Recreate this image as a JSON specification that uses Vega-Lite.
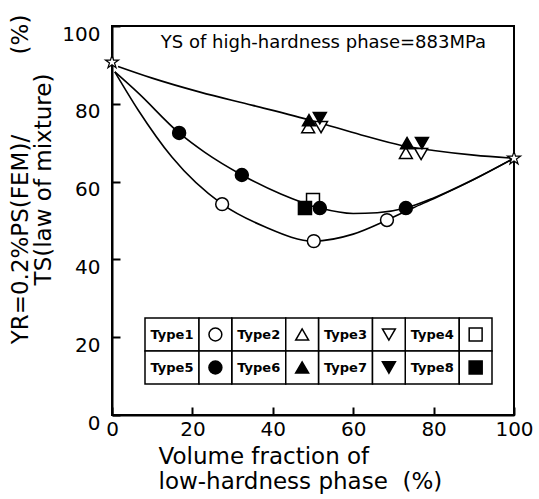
{
  "$schema": "https://vega.github.io/schema/vega-lite/v6.json",
  "width": 402,
  "height": 389,
  "autosize": {"type": "none"},
  "padding": {"left": 112, "top": 26, "right": 25, "bottom": 84},
  "background": "white",
  "datasets": {
    "points": [
      {"type": "Type1", "vf": 27.4, "yr": 54.2},
      {"type": "Type1", "vf": 50.2, "yr": 44.7},
      {"type": "Type1", "vf": 68.4, "yr": 50.1},
      {"type": "Type2", "vf": 48.8, "yr": 74.0},
      {"type": "Type2", "vf": 73.1, "yr": 67.4},
      {"type": "Type3", "vf": 52.0, "yr": 74.0},
      {"type": "Type3", "vf": 76.9, "yr": 67.1},
      {"type": "Type4", "vf": 50.0, "yr": 55.3},
      {"type": "Type6", "vf": 49.0, "yr": 75.8},
      {"type": "Type6", "vf": 73.4, "yr": 69.9},
      {"type": "Type7", "vf": 51.7, "yr": 76.3},
      {"type": "Type7", "vf": 77.1, "yr": 69.9},
      {"type": "Type8", "vf": 48.0, "yr": 53.2},
      {"type": "Type5", "vf": 16.7, "yr": 72.5},
      {"type": "Type5", "vf": 32.3, "yr": 61.7},
      {"type": "Type5", "vf": 51.7, "yr": 53.2},
      {"type": "Type5", "vf": 73.1, "yr": 53.2}
    ],
    "curves": [
      {"curve": "top", "vf": 1.5, "yr": 89.6},
      {"curve": "top", "vf": 10, "yr": 86.6},
      {"curve": "top", "vf": 21.9, "yr": 83.0},
      {"curve": "top", "vf": 35, "yr": 79.6},
      {"curve": "top", "vf": 50, "yr": 75.6},
      {"curve": "top", "vf": 62, "yr": 72.0},
      {"curve": "top", "vf": 72, "yr": 69.3},
      {"curve": "top", "vf": 80, "yr": 68.0},
      {"curve": "top", "vf": 90, "yr": 66.8},
      {"curve": "top", "vf": 100, "yr": 66.0},
      {"curve": "middle", "vf": 0.7, "yr": 88.2},
      {"curve": "middle", "vf": 6.5, "yr": 82.8},
      {"curve": "middle", "vf": 16.7, "yr": 72.5},
      {"curve": "middle", "vf": 23.1, "yr": 67.5},
      {"curve": "middle", "vf": 32.3, "yr": 61.7},
      {"curve": "middle", "vf": 42, "yr": 56.8},
      {"curve": "middle", "vf": 51.7, "yr": 53.2},
      {"curve": "middle", "vf": 60, "yr": 51.8},
      {"curve": "middle", "vf": 66, "yr": 52.0},
      {"curve": "middle", "vf": 73.1, "yr": 53.2},
      {"curve": "middle", "vf": 80, "yr": 55.8},
      {"curve": "middle", "vf": 90, "yr": 60.6},
      {"curve": "middle", "vf": 100, "yr": 66.0},
      {"curve": "bottom", "vf": 0.7, "yr": 88.2},
      {"curve": "bottom", "vf": 6.5, "yr": 78.4},
      {"curve": "bottom", "vf": 14.9, "yr": 66.3},
      {"curve": "bottom", "vf": 27.4, "yr": 54.2},
      {"curve": "bottom", "vf": 38, "yr": 48.4},
      {"curve": "bottom", "vf": 50.2, "yr": 44.7},
      {"curve": "bottom", "vf": 60, "yr": 46.5},
      {"curve": "bottom", "vf": 68.4, "yr": 50.1},
      {"curve": "bottom", "vf": 75, "yr": 53.3},
      {"curve": "bottom", "vf": 80, "yr": 55.6},
      {"curve": "bottom", "vf": 90, "yr": 60.5},
      {"curve": "bottom", "vf": 100, "yr": 66.0}
    ],
    "stars": [
      {"vf": 0, "yr": 90.7},
      {"vf": 100, "yr": 66.0}
    ],
    "note": [
      {"vf": 52.6, "yr": 95.6, "note": "YS of high-hardness phase=883MPa"}
    ],
    "legend": [
      {"type": "Type1", "col": 0, "row": 0},
      {"type": "Type2", "col": 1, "row": 0},
      {"type": "Type3", "col": 2, "row": 0},
      {"type": "Type4", "col": 3, "row": 0},
      {"type": "Type5", "col": 0, "row": 1},
      {"type": "Type6", "col": 1, "row": 1},
      {"type": "Type7", "col": 2, "row": 1},
      {"type": "Type8", "col": 3, "row": 1}
    ]
  },
  "config": {
    "font": "DejaVu Sans",
    "view": {"stroke": "black", "strokeWidth": 2},
    "axis": {
      "grid": false,
      "domainColor": "black",
      "domainWidth": 2,
      "tickColor": "black",
      "tickWidth": 2,
      "tickSize": -8,
      "labelColor": "black",
      "labelFont": "DejaVu Sans",
      "labelFontSize": 20,
      "labelFlush": false,
      "titleFont": "DejaVu Sans",
      "titleFontSize": 23,
      "titleFontWeight": "normal",
      "titleColor": "black"
    }
  },
  "layer": [
    {
      "layer": [
        {
          "data": {"name": "curves"},
          "mark": {"type": "line", "interpolate": "monotone", "color": "black", "strokeWidth": 1.6},
          "encoding": {
            "x": {
              "field": "vf", "type": "quantitative",
              "scale": {"domain": [0, 100], "nice": false},
              "axis": {
                "values": [0, 20, 40, 60, 80, 100],
                "labelPadding": 12,
                "title": ["Volume fraction of", "low-hardness phase\u00a0\u00a0(%)"],
                "titleAlign": "left",
                "titleBaseline": "top",
                "titleX": 46,
                "titleY": 30,
                "titleLineHeight": 25
              }
            },
            "y": {
              "field": "yr", "type": "quantitative",
              "scale": {"domain": [0, 100], "nice": false},
              "axis": {
                "values": [0, 20, 40, 60, 80, 100],
                "labelPadding": 20,
                "labelBaseline": "middle",
                "labelOffset": 8,
                "title": ["YR=0.2%PS(FEM)/\u00a0\u00a0\u00a0\u00a0\u00a0\u00a0\u00a0\u00a0\u00a0\u00a0\u00a0(%)", "TS(law of mixture)\u00a0\u00a0\u00a0\u00a0\u00a0"],
                "titleAngle": -90,
                "titleAlign": "center",
                "titleBaseline": "top",
                "titleX": -103,
                "titleY": 153,
                "titleLineHeight": 23
              }
            },
            "detail": {"field": "curve", "type": "nominal"}
          }
        },
        {
          "data": {"name": "points"},
          "mark": {"type": "point", "filled": true, "stroke": "black", "strokeWidth": 1.5, "opacity": 1},
          "encoding": {
            "x": {"field": "vf", "type": "quantitative"},
            "y": {"field": "yr", "type": "quantitative"},
            "shape": {
              "field": "type", "type": "nominal", "legend": null,
              "scale": {
                "domain": ["Type1", "Type2", "Type3", "Type4", "Type5", "Type6", "Type7", "Type8"],
                "range": ["circle", "triangle-up", "triangle-down", "square", "circle", "triangle-up", "triangle-down", "square"]
              }
            },
            "fill": {
              "field": "type", "type": "nominal", "legend": null,
              "scale": {
                "domain": ["Type1", "Type2", "Type3", "Type4", "Type5", "Type6", "Type7", "Type8"],
                "range": ["white", "white", "white", "white", "black", "black", "black", "black"]
              }
            },
            "size": {
              "field": "type", "type": "nominal", "legend": null,
              "scale": {
                "domain": ["Type1", "Type2", "Type3", "Type4", "Type5", "Type6", "Type7", "Type8"],
                "range": [165, 170, 170, 115, 150, 170, 170, 105]
              }
            }
          }
        },
        {
          "data": {"name": "stars"},
          "mark": {
            "type": "point", "filled": true, "fill": "white", "stroke": "black", "strokeWidth": 1.2, "opacity": 1, "size": 190,
            "shape": "M0,-1L0.2245,-0.309L0.9511,-0.309L0.3633,0.118L0.5878,0.809L0,0.382L-0.5878,0.809L-0.3633,0.118L-0.9511,-0.309L-0.2245,-0.309Z"
          },
          "encoding": {
            "x": {"field": "vf", "type": "quantitative"},
            "y": {"field": "yr", "type": "quantitative"}
          }
        },
        {
          "data": {"name": "note"},
          "mark": {"type": "text", "fontSize": 18, "font": "DejaVu Sans", "color": "black", "baseline": "middle", "align": "center"},
          "encoding": {
            "x": {"field": "vf", "type": "quantitative"},
            "y": {"field": "yr", "type": "quantitative"},
            "text": {"field": "note"}
          }
        }
      ]
    },
    {
      "data": {"name": "legend"},
      "layer": [
        {
          "mark": {"type": "rect", "fill": "white", "stroke": "black", "strokeWidth": 1.5, "x2Offset": 54, "y2Offset": 33},
          "encoding": {
            "x": {"field": "col", "type": "quantitative", "scale": {"domain": [0, 4], "range": [33, 380]}, "axis": null},
            "x2": {"field": "col"},
            "y": {"field": "row", "type": "quantitative", "scale": {"domain": [0, 2], "range": [292, 358]}, "axis": null},
            "y2": {"field": "row"}
          }
        },
        {
          "mark": {"type": "rect", "fill": "white", "stroke": "black", "strokeWidth": 1.5, "xOffset": 54, "x2Offset": 86.75, "y2Offset": 33},
          "encoding": {
            "x": {"field": "col", "type": "quantitative"},
            "x2": {"field": "col"},
            "y": {"field": "row", "type": "quantitative"},
            "y2": {"field": "row"}
          }
        },
        {
          "mark": {"type": "text", "fontSize": 13, "fontWeight": "bold", "font": "DejaVu Sans", "color": "black", "xOffset": 27, "yOffset": 16.5, "baseline": "middle", "align": "center"},
          "encoding": {
            "x": {"field": "col", "type": "quantitative"},
            "y": {"field": "row", "type": "quantitative"},
            "text": {"field": "type"}
          }
        },
        {
          "mark": {"type": "point", "filled": true, "stroke": "black", "strokeWidth": 1.5, "opacity": 1, "xOffset": 70.4, "yOffset": 16.5},
          "encoding": {
            "x": {"field": "col", "type": "quantitative"},
            "y": {"field": "row", "type": "quantitative"},
            "shape": {"field": "type", "type": "nominal", "legend": null},
            "fill": {"field": "type", "type": "nominal", "legend": null},
            "size": {"field": "type", "type": "nominal", "legend": null}
          }
        }
      ]
    }
  ],
  "resolve": {"scale": {"x": "independent", "y": "independent"}}
}
